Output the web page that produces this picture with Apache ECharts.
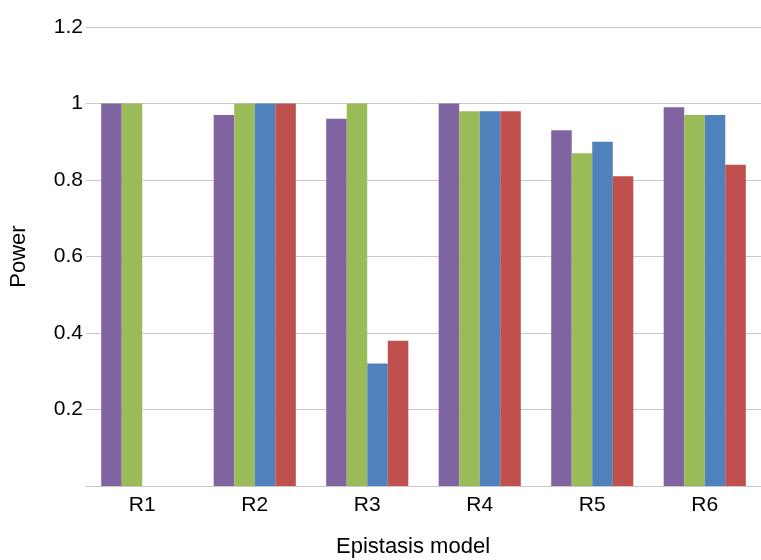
<!DOCTYPE html>
<html>
<head>
<meta charset="utf-8">
<script src="https://cdn.jsdelivr.net/npm/echarts@6/dist/echarts.min.js"></script>
<style>html,body{margin:0;padding:0;background:#fff;}#c{width:761px;height:560px;}</style>
</head>
<body>
<div id="c"></div>
<script>
const categories = ['R1', 'R2', 'R3', 'R4', 'R5', 'R6'];
const seriesPurple = [1.00, 0.97, 0.96, 1.00, 0.93, 0.99];
const seriesGreen  = [1.00, 1.00, 1.00, 0.98, 0.87, 0.97];
const seriesBlue   = [0,    1.00, 0.32, 0.98, 0.90, 0.97];
const seriesRed    = [0,    1.00, 0.38, 0.98, 0.81, 0.84];
const yTicks = { min: 0, max: 1.2, interval: 0.2 };
const xTitle = 'Epistasis model';
const yTitle = 'Power';

const chart = echarts.init(document.getElementById('c'), null, { renderer: 'canvas' });
const font = 'Liberation Sans, Arial, sans-serif';
function bar(name, data, color) {
  return { name, type: 'bar', data, barGap: '0%', barCategoryGap: '27%',
           itemStyle: { color }, emphasis: { disabled: true } };
}
chart.setOption({
  animation: false,
  grid: { left: 85, top: 27, width: 684, height: 459 },
  xAxis: {
    type: 'category', data: categories,
    axisLine: { lineStyle: { color: '#c8c8c8', width: 1 } },
    axisTick: { show: false },
    axisLabel: { color: '#000', fontSize: 21, fontFamily: font, margin: 9 }
  },
  yAxis: {
    type: 'value', min: yTicks.min, max: yTicks.max, interval: yTicks.interval,
    name: yTitle, nameLocation: 'middle', nameGap: 56,
    nameTextStyle: { color: '#000', fontSize: 22, fontFamily: font },
    axisLine: { show: false }, axisTick: { show: false },
    splitLine: { lineStyle: { color: '#c8c8c8', width: 1 } },
    axisLabel: { color: '#000', fontSize: 21, fontFamily: font, margin: 3,
      formatter: v => (Math.abs(v) < 1e-9 ? '' : String(Math.round(v * 10) / 10)) }
  },
  graphic: [{
    type: 'text', x: 413, y: 547,
    style: { text: xTitle, fill: '#000', fontSize: 22, fontFamily: font,
             align: 'center', verticalAlign: 'middle' }
  }],
  series: [
    bar('A', seriesPurple, '#8064A2'),
    bar('B', seriesGreen, '#9BBB59'),
    bar('C', seriesBlue, '#4F81BD'),
    bar('D', seriesRed, '#C0504D')
  ]
});
</script>
</body>
</html>
